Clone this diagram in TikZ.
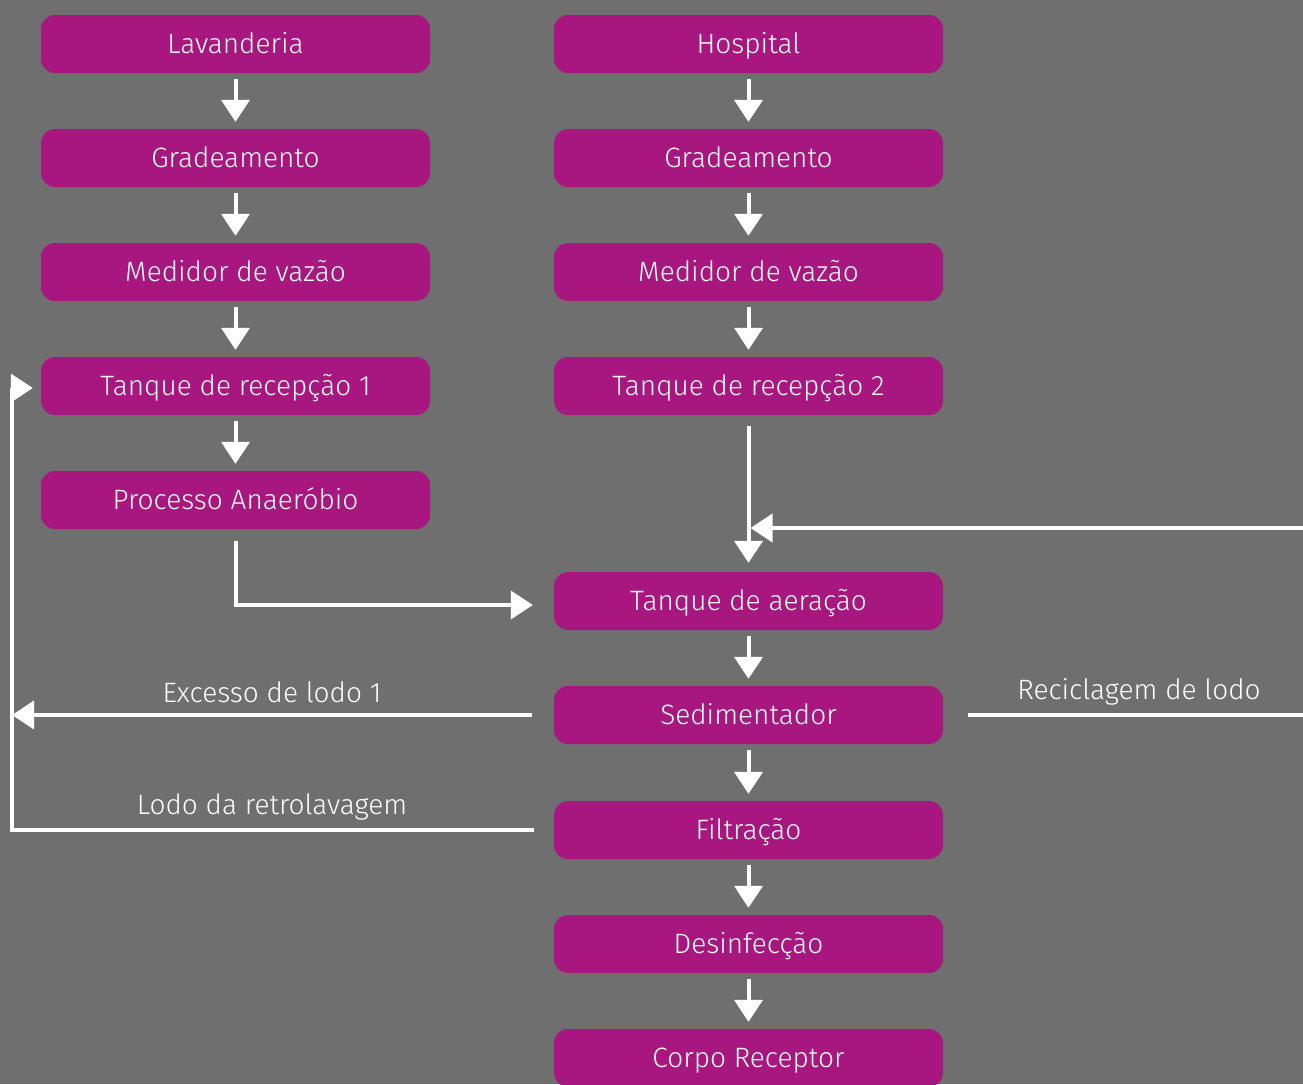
\documentclass[tikz,border=0pt]{standalone}
\usepackage{fontspec}
\setmainfont{Fira Sans}[UprightFont=* Light]
\usetikzlibrary{arrows.meta}
\definecolor{bg}{HTML}{6F6F6F}
\definecolor{mag}{HTML}{A8177F}
\begin{document}
\begin{tikzpicture}[x=1pt,y=-1pt,
 box/.style={fill=mag, rounded corners=14pt, minimum width=389pt, minimum height=58pt, inner sep=0pt, text=white, font=\fontsize{28}{32}\selectfont, text height=25.5pt, text depth=6pt},
 arr/.style={draw=white, line width=4pt, -{Triangle[width=28pt,length=22pt]}},
 ln/.style={draw=white, line width=4pt},
 lbl/.style={text=white, font=\fontsize{28}{32}\selectfont, inner sep=0pt}]
\useasboundingbox (0,0) rectangle (1303,1084);
\fill[bg] (0,0) rectangle (1303,1084);
% left column
\node[box] (L1) at (235.5,44) {Lavanderia};
\node[box] (L2) at (235.5,158) {Gradeamento};
\node[box] (L3) at (235.5,272) {Medidor de vazão};
\node[box] (L4) at (235.5,386) {Tanque de recepção 1};
\node[box] (L5) at (235.5,500) {Processo Anaeróbio};
% right column
\node[box] (R1) at (748.5,44) {Hospital};
\node[box] (R2) at (748.5,158) {Gradeamento};
\node[box] (R3) at (748.5,272) {Medidor de vazão};
\node[box] (R4) at (748.5,386) {Tanque de recepção 2};
\node[box] (A) at (748.5,601) {Tanque de aeração};
\node[box] (S) at (748.5,715) {Sedimentador};
\node[box] (F) at (748.5,830) {Filtração};
\node[box] (D) at (748.5,944) {Desinfecção};
\node[box] (C) at (748.5,1058) {Corpo Receptor};
% labels
\node[lbl] at (272,692) {Excesso de lodo 1};
\node[lbl] at (272,807) {Lodo da retrolavagem};
\node[lbl] at (1139,692) {Reciclagem de lodo};
% coordinates
\coordinate (recin) at (1305,528);
\coordinate (lft) at (12,388);
% arrows
\foreach \a/\b in {L1/L2,L2/L3,L3/L4,L4/L5,R1/R2,R2/R3,R3/R4,A/S,S/F,F/D,D/C}{
  \draw[arr, shorten <=6pt, shorten >=7pt] (\a.south) -- (\b.north);
}
\draw[arr, shorten <=11pt, shorten >=9pt] (R4.south) -- (A.north);
\draw[arr] (recin) -- ([xshift=2pt]R4.south |- recin);
\draw[arr] ([yshift=-12pt]L5.south) |- ([xshift=-21pt,yshift=-4pt]A.west);
\draw[arr] ([xshift=-22pt]S.west) -- (S.west -| lft);
\draw[arr] ([xshift=-20pt]F.west) -| (lft) -- ([xshift=-8pt]L4.west |- lft);
\draw[ln] ([xshift=25pt]S.east) -- (S.east -| recin);
\end{tikzpicture}
\end{document}
